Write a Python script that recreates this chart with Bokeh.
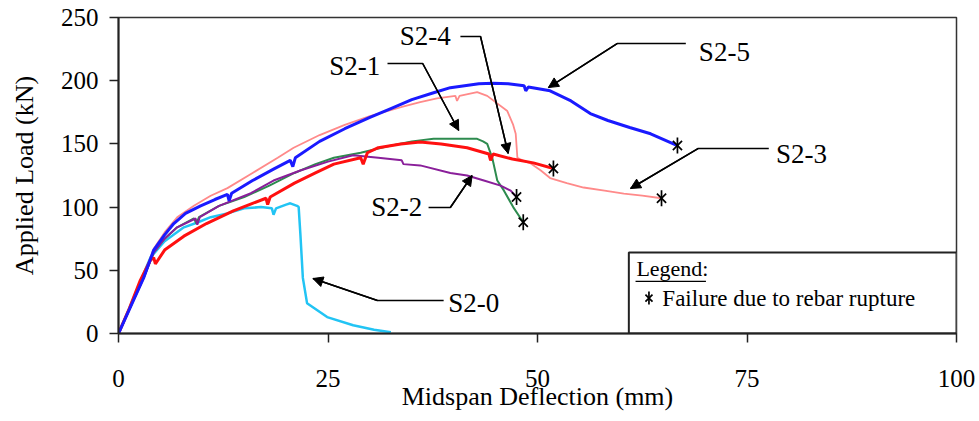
import math
from bokeh.plotting import figure
from bokeh.models import Range1d, Arrow, NormalHead, FixedTicker, Label
from bokeh.core.properties import value
from bokeh.embed import file_html
from bokeh.resources import INLINE

# ---------------- data (mm, kN) ----------------
s20_x = [0, 1.3, 2.6, 3.8, 5.5, 7.8, 9.5, 11, 13, 15, 17, 18.3, 18.5, 18.8, 20, 20.5, 21.3, 21.5, 21.7, 22.0, 22.5, 24.9, 28, 30.5, 32.5]
s20_y = [0, 20, 41, 60, 73, 84, 88, 92, 95, 99, 100, 99, 94, 99, 102, 103, 101, 100, 79, 44, 24, 13, 6.5, 3, 1]

s21_x = [0, 1.5, 3, 4.2, 5.5, 7, 9, 9.3, 9.6, 12, 15, 18, 21, 23.5, 25.7, 28.9, 32, 35, 37.6, 40, 42.8, 43.5, 44.0, 44.6, 45.2, 46, 47.1, 48.3]
s21_y = [0, 22, 44, 64, 75, 84, 91, 87, 92, 101, 108, 117, 127, 134, 139, 143, 148, 152, 154, 154, 154, 152, 150, 139, 121, 113, 100, 88]

s22_x = [0, 1.5, 3, 4.2, 5.5, 7, 9.2, 9.4, 9.7, 12, 15.8, 18.5, 21.7, 25, 28, 31, 33.8, 34.0, 36, 39.6, 41.6, 43.6, 45.6, 46.8, 47.5]
s22_y = [0, 22, 44, 64, 75, 84, 91, 86, 92, 101, 111, 121, 129, 136, 141, 139, 137, 134, 133, 127, 125, 121, 117, 113, 108]

s23_x = [0, 1.5, 3, 4.2, 5.5, 7, 9, 11, 13, 16, 19, 20.9, 24, 27, 30, 33.7, 36, 38, 40.2, 40.4, 40.7, 42.8, 44.0, 46.4, 47.1, 47.4, 47.6, 48.2, 49.2, 50.4, 51.5, 53.5, 55.5, 58, 60.3, 62.5, 64.8]
s23_y = [0, 22, 45, 67, 80, 92, 101, 109, 115, 127, 139, 147, 157, 165, 172, 179, 183, 186, 188, 184, 188, 191, 188, 176, 165, 158, 139, 137, 134.5, 129, 123, 119, 115.5, 113, 110.6, 109, 107]

s24_x = [0, 1.3, 2.6, 3.8, 4.2, 4.4, 5.5, 7.8, 10.5, 13.7, 16, 17.6, 17.8, 18.1, 21, 23.5, 25.7, 28.9, 29.2, 29.7, 31, 33.7, 36, 38.5, 41.6, 44.2, 44.4, 44.7, 47, 49.5, 51.9]
s24_y = [0, 20, 42, 58, 60, 55, 66, 77, 87, 97, 103, 107, 102, 108, 119, 127, 134, 139, 134, 143, 147, 150, 151.5, 150, 147, 142, 137, 142, 138, 135, 130.5]

s25_x = [0, 1.5, 3, 4.2, 5.5, 6.6, 8, 9.8, 11.5, 13, 13.2, 13.5, 16, 18.5, 20.5, 20.8, 21.1, 24, 27, 30, 32.5, 35, 37.6, 39.6, 43, 44.7, 46.5, 48.4, 48.6, 48.9, 51.5, 54, 56.3, 58.4, 61, 63.5, 66.7]
s25_y = [0, 22, 44, 66, 78, 87, 95, 101, 106, 110, 105, 111, 121, 130, 137, 132, 139, 152, 162, 171, 178, 185, 190.5, 194.5, 197.5, 198, 197.5, 196, 192, 195, 192, 184, 174, 168.5, 163, 158, 148.7]

# rupture markers (end points)
rupt_x = [48.3, 47.5, 64.8, 51.9, 66.7]
rupt_y = [88, 108, 107, 130.5, 148.7]

# annotations
ann_names = ["S2-0", "S2-1", "S2-2", "S2-3", "S2-4", "S2-5"]
ann_tx = [42.4, 28.2, 33.2, 81.5, 36.6, 72.3]
ann_ty = [24.5, 211.5, 99.7, 142.4, 235.5, 223]
ann_path_x = [[38.8, 30.9], [32.1, 36.3], [37.0, 39.6], [77.6, 69.2], [40.8, 43.2], [67.7, 59.5]]
ann_path_y = [[26.1, 26.1], [213.6, 213.6], [99.7, 99.7], [146.4, 146.4], [235.0, 235.0], [229.4, 229.4]]
ann_tip_x = [23.2, 40.6, 42.2, 61.1, 46.5, 51.3]
ann_tip_y = [43.5, 160.6, 125.0, 114.7, 142.4, 194.6]

x_ticks = [0, 25, 50, 75, 100]
y_ticks = [0, 50, 100, 150, 200, 250]

SERIF = "Liberation Serif"

p = figure(width=979, height=421, output_backend="svg", toolbar_location=None,
           x_range=Range1d(0, 100), y_range=Range1d(0, 250),
           min_border_left=118, min_border_right=23, min_border_top=17, min_border_bottom=88)
p.background_fill_color = "white"
p.border_fill_color = "white"
p.grid.visible = False
p.outline_line_color = "#333333"
p.outline_line_width = 1.5

for ax in (p.xaxis[0], p.yaxis[0]):
    ax.axis_line_width = 2
    ax.axis_line_color = "#222222"
    ax.major_tick_line_color = "#222222"
    ax.major_tick_line_width = 1.5
    ax.major_tick_out = 9
    ax.major_tick_in = 0
    ax.minor_tick_out = 0
    ax.minor_tick_in = 0
    ax.major_label_text_font = SERIF
    ax.major_label_text_font_size = "25px"
    ax.major_label_text_color = "black"
    ax.axis_label_text_font = SERIF
    ax.axis_label_text_font_size = "26px"
    ax.axis_label_text_font_style = "normal"
    ax.axis_label_text_color = "black"

p.xaxis.ticker = FixedTicker(ticks=x_ticks)
p.yaxis.ticker = FixedTicker(ticks=y_ticks)
p.xaxis.axis_label = "Midspan Deflection (mm)"
p.yaxis.axis_label = "Applied Load (kN)"
p.xaxis.major_label_standoff = 27
p.xaxis.axis_label_standoff = -8
p.yaxis.major_label_standoff = 11
p.yaxis.axis_label_standoff = 19

# curves
p.line(s20_x, s20_y, color="#22c4f4", line_width=2.5)
p.line(s21_x, s21_y, color="#2e8b4f", line_width=2)
p.line(s22_x, s22_y, color="#8a1f9a", line_width=2)
p.line(s23_x, s23_y, color="#ff8a8a", line_width=1.8)
p.line(s24_x, s24_y, color="#ff1010", line_width=3)
p.line(s25_x, s25_y, color="#1a1aff", line_width=3)

# six-armed asterisks
p.scatter(rupt_x, rupt_y, marker="x", size=13, line_color="black", line_width=1.7)
p.scatter(rupt_x, rupt_y, marker="dash", size=16, angle=math.pi / 2, line_color="black", line_width=1.7)

# annotations with arrows
for i in range(len(ann_names)):
    p.line(ann_path_x[i] + [ann_tip_x[i]], ann_path_y[i] + [ann_tip_y[i]],
           color="black", line_width=1.5)
    p.add_layout(Arrow(end=NormalHead(size=10, fill_color="black", line_color="black", line_width=1),
                       x_start=ann_path_x[i][-1], y_start=ann_path_y[i][-1],
                       x_end=ann_tip_x[i], y_end=ann_tip_y[i],
                       line_color="black", line_width=1.5))
p.text(ann_tx, ann_ty, text=ann_names, text_font=value(SERIF), text_font_size="27px",
       text_align="center", text_baseline="middle", text_color="black")

# legend box
p.quad(left=[60.9], right=[100], bottom=[0], top=[64], fill_color="white",
       line_color="#222222", line_width=2)
p.add_layout(Label(x=61.8, y=51.4, text="Legend:", text_font=SERIF, text_font_size="22px",
                   text_baseline="middle", text_align="left", text_color="black"))
p.line([61.7, 70.1], [41.3, 41.3], color="black", line_width=1.2)
p.scatter([63.3], [28], marker="x", size=10, line_color="black", line_width=1.7)
p.scatter([63.3], [28], marker="dash", size=13, angle=math.pi / 2, line_color="black", line_width=1.7)
p.add_layout(Label(x=64.9, y=28, text="Failure due to rebar rupture", text_font=SERIF,
                   text_font_size="23px", text_baseline="middle", text_align="left",
                   text_color="black"))

open("out.html", "w").write(file_html(p, INLINE))
